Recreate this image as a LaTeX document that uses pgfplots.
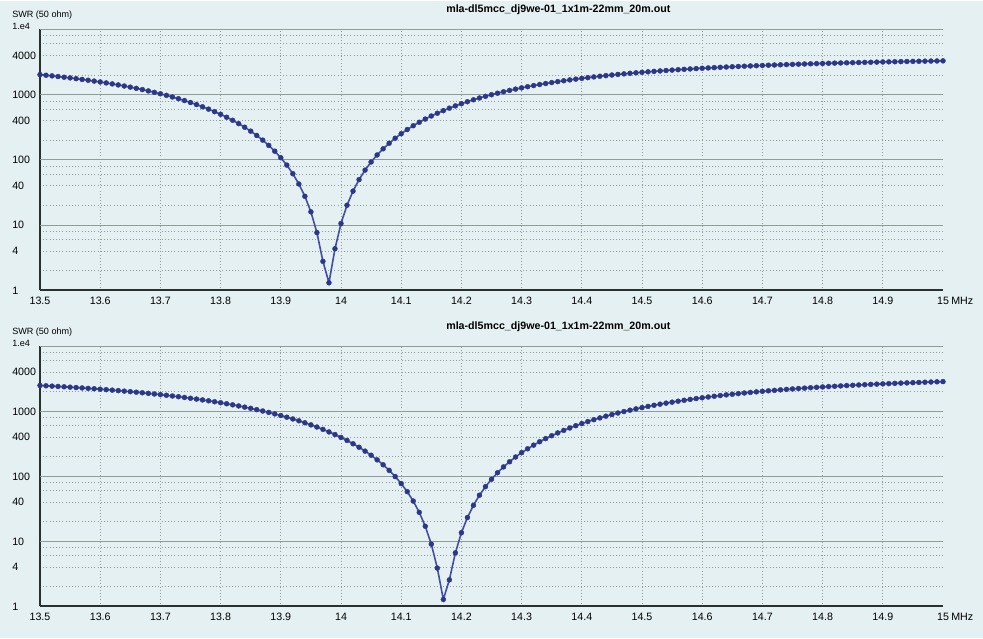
\documentclass[border=0pt]{standalone}
\usepackage{pgfplots}
\pgfplotsset{compat=1.18}
\usepackage{pgfplotstable}
\usepackage{fontspec}
\setmainfont{Liberation Sans}
\definecolor{bgc}{RGB}{228,240,242}
\definecolor{gridc}{RGB}{145,156,152}
\definecolor{axisc}{RGB}{40,48,48}
\definecolor{linec}{RGB}{66,78,165}
\definecolor{markc}{RGB}{45,55,135}

% SWR, resonance near 13.98 MHz
\pgfplotstableread{
f swr
13.50 2026
13.51 1984
13.52 1940
13.53 1896
13.54 1851
13.55 1806
13.56 1759
13.57 1711
13.58 1663
13.59 1614
13.60 1564
13.61 1513
13.62 1462
13.63 1410
13.64 1357
13.65 1304
13.66 1250
13.67 1196
13.68 1141
13.69 1086
13.70 1031
13.71 976
13.72 921
13.73 867
13.74 812
13.75 758
13.76 705
13.77 652
13.78 600
13.79 549
13.80 500
13.81 451
13.82 405
13.83 360
13.84 317
13.85 276
13.86 237
13.87 201
13.88 167
13.89 136
13.90 108
13.91 83.3
13.92 61.4
13.93 42.8
13.94 27.7
13.95 16.0
13.96 7.69
13.97 2.79
13.98 1.31
13.99 4.35
14.00 10.6
14.01 20.2
14.02 33.3
14.03 49.9
14.04 69.8
14.05 92.9
14.06 119
14.07 148
14.08 180
14.09 215
14.10 252
14.11 292
14.12 334
14.13 378
14.14 423
14.15 471
14.16 519
14.17 569
14.18 621
14.19 673
14.20 726
14.21 780
14.22 834
14.23 889
14.24 943
14.25 998
14.26 1053
14.27 1108
14.28 1163
14.29 1217
14.30 1271
14.31 1325
14.32 1378
14.33 1431
14.34 1482
14.35 1533
14.36 1584
14.37 1634
14.38 1683
14.39 1731
14.40 1778
14.41 1824
14.42 1870
14.43 1914
14.44 1958
14.45 2001
14.46 2043
14.47 2084
14.48 2124
14.49 2163
14.50 2201
14.51 2239
14.52 2275
14.53 2311
14.54 2346
14.55 2380
14.56 2414
14.57 2446
14.58 2478
14.59 2509
14.60 2539
14.61 2568
14.62 2597
14.63 2625
14.64 2652
14.65 2679
14.66 2705
14.67 2730
14.68 2755
14.69 2779
14.70 2803
14.71 2826
14.72 2848
14.73 2870
14.74 2891
14.75 2912
14.76 2932
14.77 2952
14.78 2971
14.79 2990
14.80 3008
14.81 3026
14.82 3044
14.83 3061
14.84 3078
14.85 3094
14.86 3110
14.87 3125
14.88 3140
14.89 3155
14.90 3170
14.91 3184
14.92 3197
14.93 3211
14.94 3224
14.95 3237
14.96 3249
14.97 3262
14.98 3274
14.99 3285
15.00 3297
}\swrA

% SWR, resonance near 14.17 MHz
\pgfplotstableread{
f swr
13.50 2508
13.51 2480
13.52 2451
13.53 2422
13.54 2392
13.55 2361
13.56 2329
13.57 2297
13.58 2264
13.59 2231
13.60 2197
13.61 2162
13.62 2126
13.63 2089
13.64 2052
13.65 2014
13.66 1976
13.67 1936
13.68 1896
13.69 1855
13.70 1814
13.71 1771
13.72 1728
13.73 1685
13.74 1640
13.75 1595
13.76 1549
13.77 1503
13.78 1456
13.79 1409
13.80 1361
13.81 1312
13.82 1263
13.83 1214
13.84 1164
13.85 1115
13.86 1065
13.87 1015
13.88 965
13.89 915
13.90 865
13.91 815
13.92 766
13.93 717
13.94 669
13.95 621
13.96 575
13.97 529
13.98 484
13.99 441
14.00 398
14.01 358
14.02 318
14.03 281
14.04 245
14.05 212
14.06 180
14.07 151
14.08 124
14.09 99.5
14.10 77.6
14.11 58.3
14.12 41.8
14.13 28.0
14.14 17.1
14.15 9.09
14.16 3.89
14.17 1.28
14.18 2.56
14.19 6.67
14.20 13.6
14.21 23.3
14.22 35.9
14.23 51.4
14.24 69.6
14.25 90.5
14.26 114
14.27 140
14.28 168
14.29 199
14.30 232
14.31 266
14.32 303
14.33 342
14.34 382
14.35 423
14.36 467
14.37 511
14.38 556
14.39 603
14.40 650
14.41 698
14.42 746
14.43 795
14.44 845
14.45 895
14.46 945
14.47 995
14.48 1045
14.49 1095
14.50 1145
14.51 1194
14.52 1244
14.53 1293
14.54 1341
14.55 1389
14.56 1437
14.57 1484
14.58 1531
14.59 1577
14.60 1622
14.61 1667
14.62 1711
14.63 1754
14.64 1797
14.65 1839
14.66 1880
14.67 1920
14.68 1960
14.69 1999
14.70 2037
14.71 2075
14.72 2111
14.73 2147
14.74 2183
14.75 2217
14.76 2251
14.77 2284
14.78 2317
14.79 2348
14.80 2379
14.81 2410
14.82 2439
14.83 2468
14.84 2497
14.85 2525
14.86 2552
14.87 2578
14.88 2604
14.89 2630
14.90 2654
14.91 2679
14.92 2702
14.93 2726
14.94 2748
14.95 2770
14.96 2792
14.97 2813
14.98 2834
14.99 2854
15.00 2874
}\swrB

\pgfplotsset{
  swrcurve/.style={
    color=linec, line width=1.2pt,
    mark=*, mark size=1.85pt,
    mark options={fill=markc, draw=markc, line width=0.3pt},
  },
}

\newcommand{\panelnotes}{%
  \node[font=\bfseries\fontsize{8}{9}\selectfont] at (rel axis cs:0.574,1) [yshift=15pt] {mla-dl5mcc\_dj9we-01\_1x1m-22mm\_20m.out};
  \node[anchor=west, inner sep=0pt, font=\fontsize{6.8}{8}\selectfont] at (rel axis cs:0,1) [xshift=-21pt, yshift=10.5pt] {SWR (50 ohm)};
  \node[anchor=west, inner sep=0pt, font=\fontsize{6.8}{8}\selectfont] at (rel axis cs:0,1) [xshift=-21pt, yshift=2.5pt] {1.e4};
  \node[anchor=north west, inner sep=0pt, font=\fontsize{8}{9}\selectfont] at (rel axis cs:1,0) [xshift=6pt, yshift=-4.5pt] {MHz};
}

\begin{document}
\begin{tikzpicture}
\fill[bgc] (0,0) rectangle (737.25pt,477.75pt);

\begin{axis}[
  at={(30pt,261pt)}, anchor=south west,
  scale only axis, width=677.25pt, height=195.75pt,
  clip=false,
  xmin=13.5, xmax=15,
  ymode=log, ymin=1, ymax=10000,
  axis x line*=bottom, axis y line*=left,
  axis line style={draw=axisc, line width=1.5pt},
  major tick length=0pt, minor tick length=0pt,
  xtick={13.5,13.6,13.7,13.8,13.9,14,14.1,14.2,14.3,14.4,14.5,14.6,14.7,14.8,14.9,15},
  xticklabels={13.5,13.6,13.7,13.8,13.9,14,14.1,14.2,14.3,14.4,14.5,14.6,14.7,14.8,14.9,15},
  minor xtick={13.6,13.7,13.8,13.9,14,14.1,14.2,14.3,14.4,14.5,14.6,14.7,14.8,14.9},
  ytick={1,4,10,40,100,400,1000,4000},
  yticklabels={1,4,10,40,100,400,1000,4000},
  minor ytick={2,4,6,8,20,40,60,80,200,400,600,800,2000,4000,6000,8000},
  extra y ticks={10,100,1000,10000},
  extra y tick labels={},
  extra y tick style={grid=major},
  xmajorgrids=false, ymajorgrids=false,
  xminorgrids=true, yminorgrids=true,
  major grid style={solid, draw=gridc, line width=0.8pt},
  minor grid style={dotted, draw=gridc, line width=0.6pt},
  tick label style={font=\fontsize{8}{9}\selectfont},
  xticklabel style={inner sep=0pt, yshift=-4.5pt},
  yticklabel style={anchor=west, inner sep=0pt, xshift=-21pt},
]
\addplot[swrcurve] table[x=f, y=swr] {\swrA};
\panelnotes
\end{axis}

\begin{axis}[
  at={(30pt,24pt)}, anchor=south west,
  scale only axis, width=677.25pt, height=195pt,
  clip=false,
  xmin=13.5, xmax=15,
  ymode=log, ymin=1, ymax=10000,
  axis x line*=bottom, axis y line*=left,
  axis line style={draw=axisc, line width=1.5pt},
  major tick length=0pt, minor tick length=0pt,
  xtick={13.5,13.6,13.7,13.8,13.9,14,14.1,14.2,14.3,14.4,14.5,14.6,14.7,14.8,14.9,15},
  xticklabels={13.5,13.6,13.7,13.8,13.9,14,14.1,14.2,14.3,14.4,14.5,14.6,14.7,14.8,14.9,15},
  minor xtick={13.6,13.7,13.8,13.9,14,14.1,14.2,14.3,14.4,14.5,14.6,14.7,14.8,14.9},
  ytick={1,4,10,40,100,400,1000,4000},
  yticklabels={1,4,10,40,100,400,1000,4000},
  minor ytick={2,4,6,8,20,40,60,80,200,400,600,800,2000,4000,6000,8000},
  extra y ticks={10,100,1000,10000},
  extra y tick labels={},
  extra y tick style={grid=major},
  xmajorgrids=false, ymajorgrids=false,
  xminorgrids=true, yminorgrids=true,
  major grid style={solid, draw=gridc, line width=0.8pt},
  minor grid style={dotted, draw=gridc, line width=0.6pt},
  tick label style={font=\fontsize{8}{9}\selectfont},
  xticklabel style={inner sep=0pt, yshift=-4.5pt},
  yticklabel style={anchor=west, inner sep=0pt, xshift=-21pt},
]
\addplot[swrcurve] table[x=f, y=swr] {\swrB};
\panelnotes
\end{axis}
\end{tikzpicture}
\end{document}
